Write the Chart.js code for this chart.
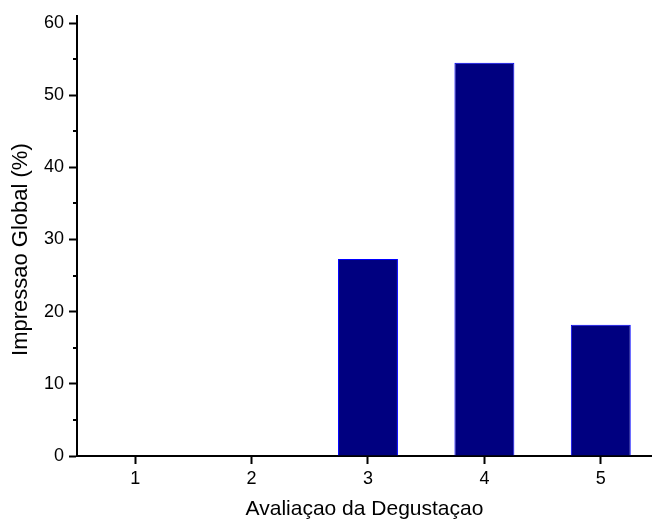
<html>
<head>
<script src="https://cdn.jsdelivr.net/npm/chart.js@4.4.0/dist/chart.umd.min.js"></script>
<style>
  body { margin: 0; background: #fff; }
  #wrap { width: 652px; height: 522px; }
</style>
</head>
<body>
<div id="wrap"><canvas id="myChart"></canvas></div>
<script>
// data
var categories = [1, 2, 3, 4, 5];
var values = [0, 0, 27.3, 54.5, 18.2];
var yTicks = [0, 10, 20, 30, 40, 50, 60];
var yMinorTicks = [5, 15, 25, 35, 45, 55];
var yTitle = 'Impressao Global (%)';

var font = "'Liberation Sans', Arial, sans-serif";

// short minor ticks on the y axis + y title (sits a bit below the axis centre in the original)
var extras = {
  id: 'extras',
  afterDraw: function (chart) {
    var ctx = chart.ctx, y = chart.scales.y, left = chart.chartArea.left;
    ctx.save();
    ctx.strokeStyle = '#000';
    ctx.lineWidth = 2;
    yMinorTicks.forEach(function (v) {
      var py = Math.round(y.getPixelForValue(v));
      ctx.beginPath();
      ctx.moveTo(left - 4, py);
      ctx.lineTo(left, py);
      ctx.stroke();
    });
    ctx.translate(21, y.getPixelForValue(28.6));
    ctx.rotate(-Math.PI / 2);
    ctx.fillStyle = '#000';
    ctx.font = '22px ' + font;
    ctx.textAlign = 'center';
    ctx.textBaseline = 'middle';
    ctx.fillText(yTitle, 0, 0);
    ctx.restore();
  }
};

var ctx = document.getElementById('myChart').getContext('2d');
var chart = new Chart(ctx, {
  type: 'bar',
  data: {
    datasets: [{
      data: categories.map(function (c, i) { return { x: c, y: values[i] }; }),
      backgroundColor: '#000080',
      borderColor: '#0000ff',
      borderWidth: 1,
      borderSkipped: 'bottom',
      categoryPercentage: 1,
      barPercentage: 0.515
    }]
  },
  options: {
    responsive: true,
    maintainAspectRatio: false,
    animation: false,
    layout: { padding: { left: 0, right: 0, top: 0, bottom: 0 } },
    plugins: { legend: { display: false }, tooltip: { enabled: false } },
    scales: {
      x: {
        type: 'linear',
        min: 0.5,
        max: 5.44,
        offset: false,
        afterBuildTicks: function (s) { s.ticks = categories.map(function (v) { return { value: v }; }); },
        afterFit: function (s) { s.height = 66; },
        grid: { display: true, offset: false, drawOnChartArea: false, drawTicks: true, tickLength: 8, tickWidth: 2, tickColor: '#000' },
        border: { display: true, color: '#000', width: 2 },
        ticks: { color: '#000', font: { family: font, size: 18 }, padding: 4, maxRotation: 0,
          callback: function (v) { return v; } },
        title: { display: true, text: 'Avaliaçao da Degustaçao', color: '#000',
          font: { family: font, size: 21 }, padding: { top: 0, bottom: 0 } }
      },
      y: {
        min: 0,
        max: 61,
        afterBuildTicks: function (s) { s.ticks = yTicks.map(function (v) { return { value: v }; }); },
        afterFit: function (s) { s.width = 77; },
        grid: { display: true, drawOnChartArea: false, drawTicks: true, tickLength: 8, tickWidth: 2, tickColor: '#000' },
        border: { display: true, color: '#000', width: 2 },
        ticks: { color: '#000', font: { family: font, size: 18 }, padding: 5 },
        title: { display: false }
      }
    }
  },
  plugins: [extras]
});
</script>
</body>
</html>
